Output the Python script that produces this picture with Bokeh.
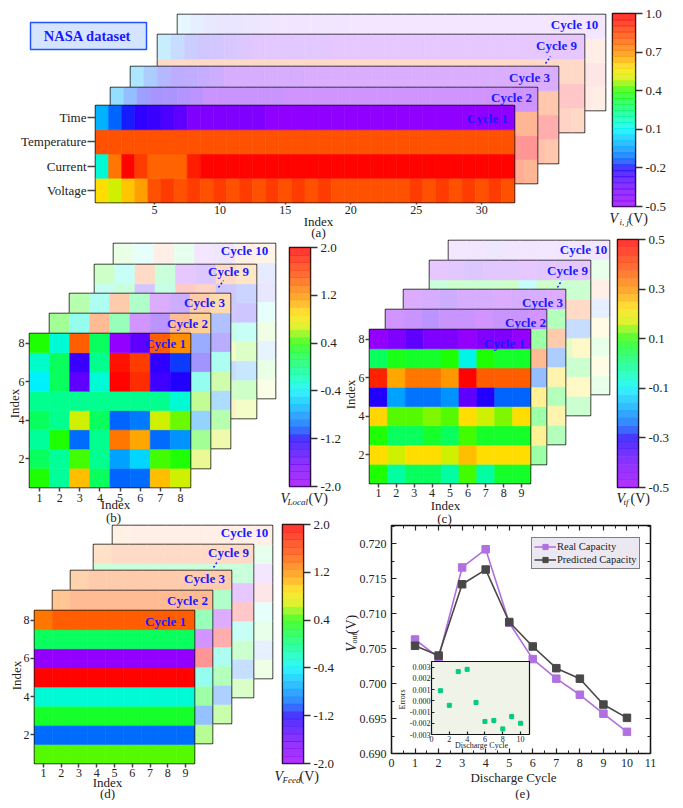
import numpy as np
from bokeh.embed import file_html
from bokeh.resources import INLINE
from bokeh.plotting import figure
from bokeh.models import (ColumnDataSource, LinearColorMapper, FixedTicker, FactorRange, Range1d, Pane,
                          NumeralTickFormatter, LinearAxis, Legend, LegendItem)
from bokeh.core.properties import value

SERIF = "Liberation Serif"
INK = "#222222"

# ---------- data ----------
cycles = ["Cycle 1", "Cycle 2", "Cycle 3", "Cycle 9", "Cycle 10"]
sheet_alpha = [1.0, 0.42, 0.32, 0.22, 0.10]

a_rows = ["Voltage", "Current", "Temperature", "Time"]
a_time = [0.0, -.12, -.18, -.22, -.25, -.28, -.32, -.40, -.40, -.40, -.40, -.40, -.40, -.45, -.45, -.45,
          -.45, -.45, -.45, -.45, -.45, -.45, -.45, -.45, -.45, -.45, -.45, -.45, -.45, -.45, -.45, -.45]
a_temp = [.82] * 32
a_curr = [.15, .75, 1.0, .86, .78, .78, .78, .93, 1.0, 1.0, 1.0, 1.0, 1.0, 1.0, 1.0, 1.0,
          1.0, 1.0, 1.0, 1.0, 1.0, 1.0, 1.0, 1.0, 1.0, 1.0, 1.0, 1.0, 1.0, 1.0, 1.0, 1.0]
a_volt = [.58, .50, .62, .68, .82, .86, .82, .86, .82, .86, .82, .86, .82, .86, .82, .86,
          .82, .86, .82, .82, .82, .82, .82, .82, .86, .82, .86, .82, .86, .82, .86, .82]
a_matrix = [a_volt, a_curr, a_temp, a_time]

b_matrix = [
    [.4, -.08, 1.0, .12, -1.0, -.96, 1.0, .68],
    [.12, -.08, .44, -.04, -.72, -.52, .44, .4],
    [-.08, .4, -.96, -.04, 1.32, 1.12, -.96, -.8],
    [.12, -.04, .68, .12, -1.0, -.88, .68, .52],
    [-.04, -.04, -.04, -.04, -.04, -.04, -.04, -.28],
    [-.4, .12, -1.52, -.28, 2.0, 1.72, -1.36, -1.2],
    [-.24, .12, -1.32, -.04, 1.88, 1.64, -1.28, -1.08],
    [.4, -.28, 1.44, .12, -1.88, -1.52, 1.44, 1.2],
]
c_matrix = [
    [.10, -.03, .03, .03, -.03, .11, -.03, .07, .07],
    [.22, .17, .22, .22, .17, .25, .22, .22, .22],
    [.10, .03, .03, .07, .03, .11, .07, .07, .07],
    [.23, .12, .12, .14, .12, .22, .17, .14, .22],
    [-.30, -.18, -.23, -.23, -.20, -.38, -.30, -.25, -.25],
    [.45, .28, .33, .33, .29, .5, .36, .36, .36],
    [.03, .08, .07, .07, .10, -.08, .10, .07, .07],
    [-.47, -.43, -.38, -.43, -.43, -.47, -.43, -.43, -.47],
]
d_matrix = [
    [.48] * 9,
    [-.96] * 9,
    [.28] * 9,
    [-.28] * 9,
    [2.0] * 9,
    [-1.88] * 9,
    [.12] * 9,
    [1.32, 1.44, 1.44, 1.44, 1.44, 1.44, 1.44, 1.44, 1.44],
]

discharge_cycle = [1, 2, 3, 4, 5, 6, 7, 8, 9, 10]
real_capacity = [.7063, .7037, .7166, .7192, .7087, .7035, .7007, .6984, .6957, .6931]
pred_capacity = [.7054, .7040, .7142, .7163, .7088, .7053, .7022, .7007, .6970, .6951]
errors = [.0009, -.0004, .0026, .0028, -.00015, -.00184, -.00175, -.0025, -.0014, -.0020]

a_bar_ticks = [1.0, .7, .4, .1, -.2, -.5]
b_bar_ticks = [2.0, 1.2, .4, -.4, -1.2, -2.0]
c_bar_ticks = [.5, .3, .1, -.1, -.3, -.5]
d_bar_ticks = [2.0, 1.2, .4, -.4, -1.2, -2.0]

# ---------- palette ----------
stops_t = [0, .10, .20, .25, .33, .40, .45, .50, .60, .67, .72, .80, .88, 1.0]
stops_c = ["a000ff", "7000ff", "2000ff", "0060ff", "00b0ff", "00f0ff", "00ffc0", "00ff80",
           "20ff00", "d4f000", "ffe000", "ff9000", "ff5000", "ff0000"]
rgb = np.array([[int(c[i:i + 2], 16) for i in (0, 2, 4)] for c in stops_c], float)


def make_palette(n, alpha=1.0):
    out = []
    for t in (np.arange(n) + .5) / n:
        c = [np.interp(t, stops_t, rgb[:, k]) * alpha + 255 * (1 - alpha) for k in range(3)]
        out.append("#%02x%02x%02x" % tuple(int(round(v)) for v in c))
    return out


palette32 = make_palette(32)
children = []


def place(p, l, t, lb, tb):
    n = len(children)
    p.styles = {"position": "absolute", "left": f"{l - lb}px", "top": f"{t - tb}px", "z-index": str(n + 1)}
    children.append(p)


def sheet(rect, matrix, vmin, vmax, alpha, with_axes, factors=None, xticks=None, yticks=None, lb=40, bb=24,
          x_out=4, x_standoff=1, y_out=4):
    l, t, r, b = rect
    m = np.array(matrix, float)
    nrow, ncol = m.shape
    if not with_axes:
        lb_, bb_ = 3, 3
    else:
        lb_, bb_ = lb, bb
    yr = FactorRange(factors=factors) if factors else Range1d(.5, nrow + .5)
    p = figure(width=r - l + lb_ + 3, height=b - t + 3 + bb_, x_range=Range1d(.5, ncol + .5), y_range=yr,
               output_backend="svg", toolbar_location=None, min_border_left=lb_, min_border_right=3,
               min_border_top=3, min_border_bottom=bb_, background_fill_color="white", border_fill_color=None,
               outline_line_color="#111111", outline_line_width=1.5)
    p.grid.visible = False
    xs, ys, vs = [], [], []
    for i in range(nrow):
        for j in range(ncol):
            xs.append(j + 1)
            ys.append(factors[i] if factors else i + 1)
            vs.append(m[i, j])
    mapper = LinearColorMapper(palette=make_palette(128, alpha), low=vmin, high=vmax)
    spec = {"field": "v", "transform": mapper}
    p.rect(x="x", y="y", width=1, height=1, source=ColumnDataSource(dict(x=xs, y=ys, v=vs)),
           fill_color=spec, line_color=spec, line_width=.6)
    if with_axes:
        p.xaxis.ticker = FixedTicker(ticks=xticks)
        if not factors:
            p.yaxis.ticker = FixedTicker(ticks=yticks)
        for ax in (p.xaxis[0], p.yaxis[0]):
            ax.axis_line_color = None
            ax.minor_tick_line_color = None
            ax.major_tick_in = 0
            ax.major_tick_line_color = "#444444"
            ax.major_tick_line_width = 1.5
            ax.major_label_text_font = SERIF
            ax.major_label_text_font_size = "12px" if not factors or ax is p.xaxis[0] else "13px"
            ax.major_label_text_color = INK
        p.xaxis[0].major_tick_out = x_out
        p.xaxis[0].major_label_standoff = x_standoff
        p.yaxis[0].major_tick_out = y_out
        p.yaxis[0].major_label_standoff = 1
    else:
        p.axis.visible = False
    place(p, l, t, lb_, 3)


def colorbar(rect, vmin, vmax, ticks):
    l, t, r, b = rect
    step = (vmax - vmin) / 32
    ys = [vmin + (i + .5) * step for i in range(32)]
    p = figure(width=r - l + 3 + 40, height=b - t + 20, x_range=Range1d(0, 1), y_range=Range1d(vmin, vmax),
               y_axis_location="right", output_backend="svg", toolbar_location=None, min_border_left=3,
               min_border_right=40, min_border_top=10, min_border_bottom=10, border_fill_color=None,
               background_fill_color="white", outline_line_color="#111111", outline_line_width=1.5)
    p.grid.visible = False
    p.xaxis.visible = False
    p.rect(x=[.5] * 32, y=ys, width=1, height=step, fill_color=palette32, fill_alpha=.8, line_color=None, dilate=True)
    ax = p.yaxis[0]
    ax.ticker = FixedTicker(ticks=ticks)
    ax.formatter = NumeralTickFormatter(format="0.0")
    ax.axis_line_color = None
    ax.minor_tick_line_color = None
    ax.major_tick_in = 0
    ax.major_tick_out = 7
    ax.major_tick_line_color = "#333333"
    ax.major_tick_line_width = 1.5
    ax.major_label_standoff = 3
    ax.major_label_text_font = SERIF
    ax.major_label_text_font_size = "13px"
    ax.major_label_text_color = INK
    place(p, l, t, 3, 10)


# ---------- panels ----------
a_rects = [(95, 105, 514, 202), (110, 87, 537, 183), (130, 66, 558, 163), (157, 34, 584, 132), (177, 14, 605, 110)]
b_rects = [(29, 333, 190, 487), (49, 313, 210, 468), (69, 293, 230, 448), (94, 264, 256, 418), (113, 243, 275, 398)]
c_rects = [(369, 329, 530, 483), (385, 309, 546, 464), (403, 289, 565, 444), (429, 260, 590, 415), (448, 240, 609, 394)]
d_rects = [(34, 610, 194, 763), (52, 590, 212, 743), (70, 570, 231, 723), (93, 544, 253, 697), (112, 525, 272, 678)]

for k in (4, 3, 2, 1, 0):
    sheet(a_rects[k], a_matrix, -.5, 1.0, sheet_alpha[k], k == 0, factors=a_rows, xticks=[5, 10, 15, 20, 25, 30],
          lb=90, x_out=2, y_out=8)
for k in (4, 3, 2, 1, 0):
    sheet(b_rects[k], b_matrix, -2, 2, sheet_alpha[k], k == 0, xticks=list(range(1, 9)), yticks=[2, 4, 6, 8], lb=24,
          x_standoff=2)
for k in (4, 3, 2, 1, 0):
    sheet(c_rects[k], c_matrix, -.5, .5, sheet_alpha[k], k == 0, xticks=list(range(1, 10)), yticks=[2, 4, 6, 8], lb=24)
for k in (4, 3, 2, 1, 0):
    sheet(d_rects[k], d_matrix, -2, 2, sheet_alpha[k], k == 0, xticks=list(range(1, 10)), yticks=[2, 4, 6, 8], lb=24)

colorbar((612, 13, 635, 206), -.5, 1.0, a_bar_ticks)
colorbar((289, 247, 310, 486), -2, 2, b_bar_ticks)
colorbar((617, 239, 638, 487), -.5, .5, c_bar_ticks)
colorbar((282, 524, 303, 763), -2, 2, d_bar_ticks)


# ---------- panel e ----------
def style_box_axis(ax, size, labels=True, minor=True):
    ax.axis_line_color = None
    ax.major_tick_in = 5 if size > 10 else 3
    ax.major_tick_out = 0
    ax.minor_tick_in = 3 if minor else 0
    ax.minor_tick_out = 0
    ax.major_tick_line_color = "#222222"
    ax.minor_tick_line_color = "#222222" if minor else None
    ax.major_tick_line_width = 1.2
    ax.major_label_standoff = 5 if size > 10 else 1
    ax.major_label_text_font = SERIF
    ax.major_label_text_font_size = f"{size}px"
    ax.major_label_text_color = INK
    if not labels:
        ax.major_label_standoff = 0
        ax.major_label_overrides = {t: "" for t in ax.ticker.ticks}


e_l, e_t, e_r, e_b = 391, 525, 650, 753
pe = figure(width=e_r - e_l + 44 + 16, height=e_b - e_t + 20 + 22, x_range=Range1d(0, 11), y_range=Range1d(.69, .7226),
            output_backend="svg", toolbar_location=None, min_border_left=44, min_border_right=16,
            min_border_top=20, min_border_bottom=22, border_fill_color=None, background_fill_color="white",
            outline_line_color="#111111", outline_line_width=1.5)
pe.grid.visible = False
xt = FixedTicker(ticks=list(range(0, 12)), minor_ticks=[i + .5 for i in range(11)])
yt = FixedTicker(ticks=[.69, .695, .70, .705, .71, .715, .72],
                 minor_ticks=[.6925, .6975, .7025, .7075, .7125, .7175, .7225])
pe.xaxis.ticker = xt
pe.yaxis.ticker = yt
pe.yaxis.formatter = NumeralTickFormatter(format="0.000")
style_box_axis(pe.xaxis[0], 12)
style_box_axis(pe.yaxis[0], 12)
top_ax = LinearAxis(ticker=xt)
right_ax = LinearAxis(ticker=yt)
style_box_axis(top_ax, 12, labels=False)
style_box_axis(right_ax, 12, labels=False)
pe.add_layout(top_ax, "above")
pe.add_layout(right_ax, "right")
src_e = ColumnDataSource(dict(x=discharge_cycle, real=real_capacity, pred=pred_capacity))
l1 = pe.line("x", "real", source=src_e, line_color="#b070e0", line_width=1.6)
m1 = pe.scatter("x", "real", source=src_e, marker="square", size=7.5, fill_color="#b070e0", line_color="#b070e0")
l2 = pe.line("x", "pred", source=src_e, line_color="#484848", line_width=1.6)
m2 = pe.scatter("x", "pred", source=src_e, marker="square", size=7.5, fill_color="#484848", line_color="#484848")
leg = Legend(items=[LegendItem(label="Real Capacity", renderers=[l1, m1]),
                    LegendItem(label="Predicted Capacity", renderers=[l2, m2])],
             location=(140, 184), padding=2, spacing=0, margin=0, glyph_width=22, glyph_height=13, label_height=13,
             label_standoff=1, label_text_font=SERIF, label_text_font_size="10.5px", label_text_color=INK,
             background_fill_color="#ebe8f2", background_fill_alpha=1, border_line_color="#111111",
             border_line_width=1.2)
pe.add_layout(leg)
place(pe, e_l, e_t, 44, 20)

i_l, i_t, i_r, i_b = 431, 661, 529, 734
pi_ = figure(width=i_r - i_l + 30 + 6, height=i_b - i_t + 4 + 14, x_range=Range1d(0, 11), y_range=Range1d(-.003, .0035),
             output_backend="svg", toolbar_location=None, min_border_left=30, min_border_right=6, min_border_top=4,
             min_border_bottom=14, border_fill_color=None, background_fill_color="#f0f3e8",
             outline_line_color="#111111", outline_line_width=1.2)
pi_.grid.visible = False
pi_.xaxis.ticker = FixedTicker(ticks=[0, 2, 4, 6, 8, 10])
pi_.yaxis.ticker = FixedTicker(ticks=[-.003, -.002, -.001, 0, .001, .002, .003])
pi_.yaxis.formatter = NumeralTickFormatter(format="0.000")
style_box_axis(pi_.xaxis[0], 8, minor=False)
style_box_axis(pi_.yaxis[0], 8, minor=False)
pi_.scatter(discharge_cycle, errors, marker="square", size=4, fill_color="#00cc80", line_color="#00cc80")
place(pi_, i_l, i_t, 30, 4)

# ---------- overlay of page labels ----------
ov = figure(width=667, height=792, x_range=Range1d(8, 675), y_range=Range1d(800, 8), output_backend="svg",
            toolbar_location=None, min_border=0, border_fill_color=None, background_fill_color=None,
            outline_line_color=None)
ov.axis.visible = False
ov.grid.visible = False


def txt(x, y, s, size=13, style="normal", color=INK, align="center", angle=0.0, baseline="middle"):
    ov.text([x], [y], text=[s], text_font=value(SERIF), text_font_size=f"{size}px", text_font_style=style,
            text_color=color, text_align=align, text_baseline=baseline, angle=angle)


BLUE = "#1a1aff"
ov.quad(left=[30], right=[146], top=[22], bottom=[49], fill_color="#d5e5ff", line_color="#2255ff", line_width=1.5)
txt(87, 35, "NASA dataset", 14.5, "bold", BLUE)

a_pos = [(487, 118), (511, 97), (529, 77), (556, 45), (574, 24)]
b_pos = [(165, 343), (187, 323), (204, 302), (228, 271), (244, 250)]
c_pos = [(504, 343), (525, 322), (542, 302), (567, 270), (583, 249)]
d_pos = [(165, 621), (187, 600), (204, 578), (228, 552), (244, 532)]
for group in (a_pos, b_pos, c_pos, d_pos):
    for name, (x, y) in zip(cycles, group):
        txt(x, y, name, 13, "bold", BLUE)
for (x0, y0, x1, y1) in [(545, 63, 550, 56), (218, 287, 223, 280), (557, 287, 561, 280), (213, 567, 217, 561)]:
    ov.line([x0, x1], [y0, y1], line_color=BLUE, line_width=1.5, line_dash="2 2")

for x, y, s in [(318, 221, "Index"), (318, 232, "(a)"), (115, 504, "Index"), (113, 517, "(b)"),
                (445, 505, "Index"), (444, 518, "(c)"), (107, 782, "Index"), (107, 793, "(d)"),
                (513, 777, "Discharge Cycle"), (522, 793, "(e)")]:
    txt(x, y, s, 13)
for x, y in [(14, 403), (350, 394), (16, 675)]:
    txt(x, y, "Index", 13, angle=np.pi / 2)
txt(481, 745, "Discharge Cycle", 8)
txt(402, 699, "Errors", 8, angle=np.pi / 2)

for vx, sx, px, y, sub in [(609, 619, 628, 218, "i, j"), (280, 287, 308, 498, "Local"),
                           (616, 623, 630, 498, "tf"), (274, 282, 299, 776, "Feed")]:
    txt(vx, y, "V", 14, "italic", align="left")
    txt(sx, y + 3, sub, 9, "italic", align="left")
    txt(px, y, "(V)", 14, align="left")
txt(351, 647, "V", 14, "italic", angle=np.pi / 2)
txt(354, 638, "out", 8, "italic", angle=np.pi / 2)
txt(351, 624, "(V)", 14, angle=np.pi / 2)
place(ov, 8, 8, 0, 0)

root = Pane(elements=children, styles={"position": "relative", "width": "667px", "height": "792px"})
open("out.html", "w").write(file_html(root, INLINE))
